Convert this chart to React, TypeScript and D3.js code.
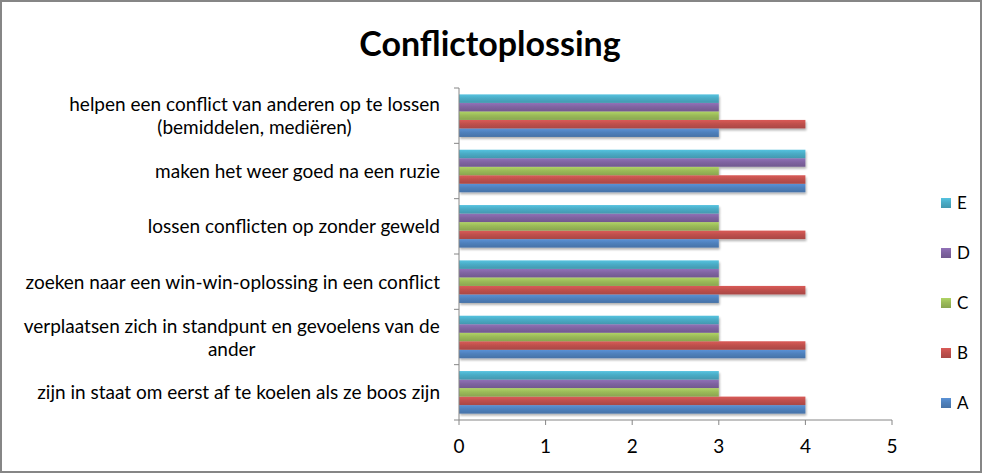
import React from "react";
import * as d3 from "d3";

const categories = [
  "helpen een conflict van anderen op te lossen\n(bemiddelen, mediëren)",
  "maken het weer goed na een ruzie",
  "lossen conflicten op zonder geweld",
  "zoeken naar een win-win-oplossing in een conflict",
  "verplaatsen zich in standpunt en gevoelens van de\nander",
  "zijn in staat om eerst af te koelen als ze boos zijn",
];
const seriesNames = ["A", "B", "C", "D", "E"];
const seriesA = [3, 4, 3, 3, 4, 4];
const seriesB = [4, 4, 4, 4, 4, 4];
const seriesC = [3, 3, 3, 3, 3, 3];
const seriesD = [3, 4, 3, 3, 3, 3];
const seriesE = [3, 4, 3, 3, 3, 3];
const xTicks = [0, 1, 2, 3, 4, 5];
const colors = ["#4F81BD", "#C0504D", "#9BBB59", "#8064A2", "#4BACC6"];

const W = 982;
const H = 473;
const FONT = "Lato, 'Open Sans', sans-serif";
const LABEL_SIZE = 19;

let ctx: CanvasRenderingContext2D | null = null;
function measure(text: string, size: number): number {
  if (!ctx) ctx = document.createElement("canvas").getContext("2d");
  if (!ctx) return text.length * size * 0.5;
  ctx.font = `${size}px Lato`;
  return ctx.measureText(text).width;
}

export default function App() {
  const seriesValues = [seriesA, seriesB, seriesC, seriesD, seriesE];
  const x = d3.scaleLinear().domain([0, 5]).range([459, 892]);
  const y = d3.scaleBand<string>().domain(categories).range([88, 420]).paddingInner(0).paddingOuter(0);
  const band = y.bandwidth();
  const barH = band / 6.5;
  const groupOffset = (band - barH * 5) / 2;
  const axisColor = "#868686";

  return (
    <svg width={W} height={H} style={{ position: "absolute", left: 0, top: 0 }}>
      <defs>
        {colors.map((c, i) => {
          const base = d3.color(c)!;
          return (
            <linearGradient key={i} id={`g${i}`} x1="0" y1="0" x2="0" y2="1">
              <stop offset="0" stopColor={d3.color(c)!.brighter(0.35).formatHex()} />
              <stop offset="0.45" stopColor={base.formatHex()} />
              <stop offset="1" stopColor={d3.color(c)!.darker(0.35).formatHex()} />
            </linearGradient>
          );
        })}
        <filter id="sh" x="-5%" y="-30%" width="110%" height="180%">
          <feGaussianBlur in="SourceAlpha" stdDeviation="1.2" />
          <feOffset dx="1" dy="2" result="b" />
          <feComponentTransfer>
            <feFuncA type="linear" slope="0.3" />
          </feComponentTransfer>
          <feMerge>
            <feMergeNode />
            <feMergeNode in="SourceGraphic" />
          </feMerge>
        </filter>
      </defs>
      <rect x={1} y={1} width={W - 2} height={H - 2} fill="#fff" stroke={axisColor} strokeWidth={2} />
      <text x={490} y={56} textAnchor="middle" fontFamily={FONT} fontWeight="bold" fontSize={34} fill="#000">
        Conflictoplossing
      </text>

      {/* bars */}
      {categories.map((cat, ci) => (
        <g key={cat} filter="url(#sh)">
          {seriesValues.map((vals, si) => {
            const top = y(cat)! + groupOffset + (4 - si) * barH;
            return (
              <rect
                key={si}
                x={x(0)}
                y={top}
                width={x(vals[ci]) - x(0)}
                height={barH}
                fill={`url(#g${si})`}
              />
            );
          })}
        </g>
      ))}

      {/* y axis */}
      <line x1={x(0)} x2={x(0)} y1={88} y2={420} stroke={axisColor} strokeWidth={1} />
      {[...categories.map((c) => y(c)!), 420].map((v, i) => (
        <line key={i} x1={x(0) - 5} x2={x(0)} y1={v} y2={v} stroke={axisColor} />
      ))}
      {categories.map((cat) => {
        const lines = cat.split("\n");
        const cy = y(cat)! + band / 2;
        const lh = 23;
        const first = cy - ((lines.length - 1) * lh) / 2;
        const maxW = Math.max(...lines.map((l) => measure(l, LABEL_SIZE)));
        const multi = lines.length > 1;
        return (
          <text
            key={cat}
            fontFamily={FONT}
            fontSize={LABEL_SIZE}
            fill="#000"
            textAnchor={multi ? "middle" : "end"}
          >
            {lines.map((l, li) => (
              <tspan key={li} x={multi ? 440 - maxW / 2 : 440} y={first + li * lh + 7}>
                {l}
              </tspan>
            ))}
          </text>
        );
      })}

      {/* x axis */}
      <line x1={x(0)} x2={x(5)} y1={420} y2={420} stroke={axisColor} />
      {xTicks.map((t) => (
        <g key={t}>
          <line x1={x(t)} x2={x(t)} y1={420} y2={425} stroke={axisColor} />
          <text x={x(t)} y={453} textAnchor="middle" fontFamily={FONT} fontSize={19} fill="#000">
            {t}
          </text>
        </g>
      ))}

      {/* legend */}
      {seriesNames.map((s, i) => {
        const ly = 403 - i * 50;
        return (
          <g key={s}>
            <rect x={941} y={ly - 5} width={10} height={10} fill={`url(#g${i})`} />
            <text x={957} y={ly + 6} fontFamily={FONT} fontSize={17} fill="#000">
              {s}
            </text>
          </g>
        );
      })}
    </svg>
  );
}
